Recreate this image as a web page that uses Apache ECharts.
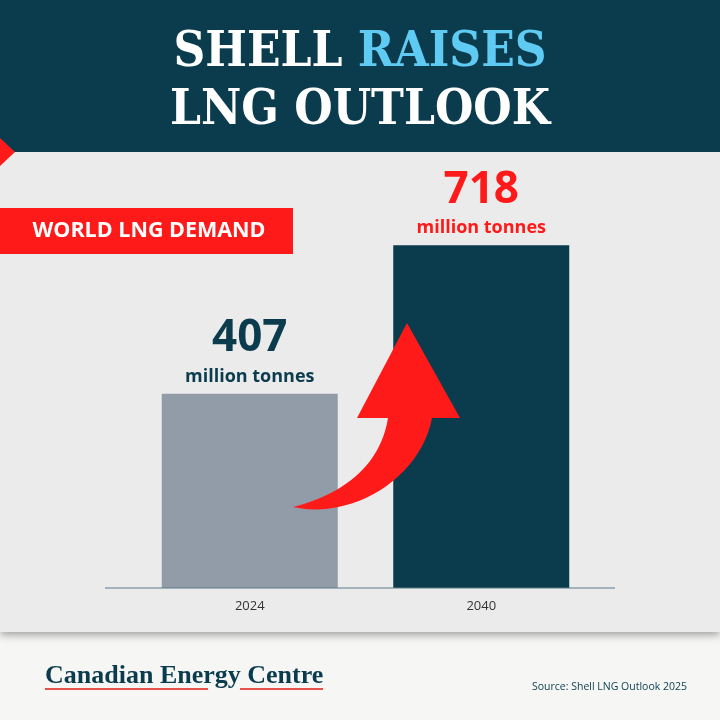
<!DOCTYPE html>
<html>
<head>
<meta charset="utf-8">
<script src="https://cdn.jsdelivr.net/npm/echarts@6/dist/echarts.min.js"></script>
<style>html,body{margin:0;padding:0;background:#f6f6f5}#main{width:720px;height:720px}</style>
</head>
<body>
<div id="main"></div>
<script>
var years = ['2024', '2040'];
var demand = [407, 718];
var labelColors = ['#0b3c4d', '#ff1a1a'];
var barColors = ['#929ca8', '#0b3c4d'];

var teal = '#0b3c4d';
var chart = echarts.init(document.getElementById('main'));

// sample a cubic bezier for the arrow outline
function cubic(p0, p1, p2, p3, n) {
    var pts = [];
    for (var i = 0; i <= n; i++) {
        var t = i / n, u = 1 - t;
        pts.push([
            u * u * u * p0[0] + 3 * u * u * t * p1[0] + 3 * u * t * t * p2[0] + t * t * t * p3[0],
            u * u * u * p0[1] + 3 * u * u * t * p1[1] + 3 * u * t * t * p2[1] + t * t * t * p3[1]
        ]);
    }
    return pts;
}
var arrowPts = cubic([293, 507], [350, 520], [420, 480], [432, 418], 24)
    .concat([[460, 418], [407, 323], [357, 418]])
    .concat(cubic([388, 418], [380, 468], [340, 495], [293, 507], 24));

chart.setOption({
    backgroundColor: '#f6f6f5',
    animation: false,
    grid: {left: 134, right: 123, top: 206, bottom: 132},
    xAxis: {
        type: 'category',
        data: years,
        axisLine: {show: false},
        axisTick: {show: false},
        axisLabel: {color: '#333', fontSize: 13, fontFamily: 'Open Sans', margin: 12}
    },
    yAxis: {type: 'value', min: 0, max: 800, show: false, splitLine: {show: false}},
    graphic: [
        {type: 'rect', z: -10, shape: {x: 0, y: 0, width: 720, height: 152}, style: {fill: teal}},
        {type: 'rect', z: -11, shape: {x: 0, y: 152, width: 720, height: 480},
            style: {fill: '#ebebeb', shadowBlur: 8, shadowOffsetY: 3, shadowColor: 'rgba(0,0,0,0.35)'}},
        {type: 'polygon', z: 5, shape: {points: [[0, 138], [15, 152], [0, 166]]}, style: {fill: '#ff1a1a'}},
        {type: 'text', z: 5, x: 360, y: 53, style: {
            text: '{w|SHELL }{b|RAISES}', align: 'center', verticalAlign: 'middle', rich: {
                w: {fill: '#fff', fontSize: 49, fontWeight: 900, fontFamily: 'DejaVu Serif Condensed'},
                b: {fill: '#5fcaf2', fontSize: 49, fontWeight: 900, fontFamily: 'DejaVu Serif Condensed'}
            }}},
        {type: 'text', z: 5, x: 360, y: 111, style: {
            text: 'LNG OUTLOOK', fill: '#fff', fontSize: 49, fontWeight: 900,
            fontFamily: 'DejaVu Serif Condensed', align: 'center', verticalAlign: 'middle'}},
        {type: 'rect', z: 5, shape: {x: 0, y: 208, width: 293, height: 46}, style: {fill: '#ff1a1a'}},
        {type: 'text', z: 6, x: 149, y: 231, style: {
            text: 'WORLD LNG DEMAND', fill: '#fff', fontSize: 21.5, fontWeight: 'bold',
            fontFamily: 'Open Sans', align: 'center', verticalAlign: 'middle'}},
        {type: 'line', z: 5, shape: {x1: 105, y1: 588, x2: 615, y2: 588}, style: {stroke: '#5b7a86', lineWidth: 1}},
        {type: 'polygon', z: 10, shape: {points: arrowPts}, style: {fill: '#ff1a1a'}},
        {type: 'text', z: 5, x: 45, y: 663, style: {
            text: 'Canadian Energy Centre', fill: teal, fontSize: 26, fontWeight: 'bold', fontFamily: 'Liberation Serif'}},
        {type: 'rect', z: 5, shape: {x: 45, y: 688, width: 163, height: 2}, style: {fill: '#e8524a'}},
        {type: 'rect', z: 5, shape: {x: 240, y: 688, width: 83, height: 2}, style: {fill: '#e8524a'}},
        {type: 'text', z: 5, x: 532, y: 682, style: {
            text: 'Source: Shell LNG Outlook 2025', fill: teal, fontSize: 10.5, fontFamily: 'Open Sans'}}
    ],
    series: [{
        type: 'bar',
        barWidth: 176,
        data: demand.map(function (v, i) {
            return {
                value: v,
                itemStyle: {color: barColors[i]},
                label: {
                    show: true, position: 'top', distance: 2,
                    formatter: '{n|{c}}\n{u|million tonnes}',
                    rich: {
                        n: {color: labelColors[i], fontSize: 44, fontWeight: 'bold', fontFamily: 'Open Sans', lineHeight: 46},
                        u: {color: labelColors[i], fontSize: 18, fontWeight: 'bold', fontFamily: 'Open Sans', lineHeight: 30}
                    }
                }
            };
        })
    }]
});
</script>
</body>
</html>
